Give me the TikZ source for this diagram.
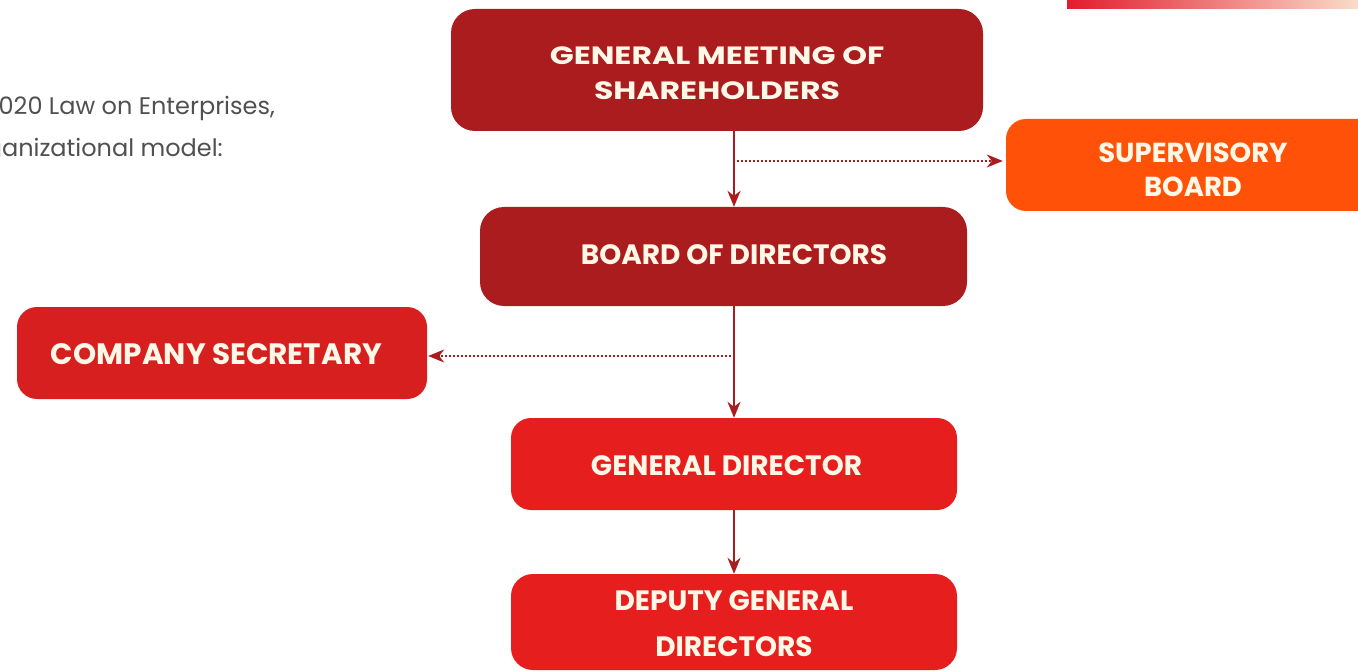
\documentclass[tikz,border=0pt]{standalone}
\usepackage{fontspec}
\setmainfont{Poppins}
\usetikzlibrary{arrows.meta}
\definecolor{darkred}{HTML}{AA1C1E}
\definecolor{suporange}{HTML}{FF5208}
\definecolor{secred}{HTML}{D71F1F}
\definecolor{gdred}{HTML}{E71E1E}
\definecolor{cream}{HTML}{FFF8E7}
\definecolor{greytext}{HTML}{505050}
\definecolor{barstart}{HTML}{E21B2E}
\definecolor{barend}{HTML}{FADCC8}
\tikzset{
  box/.style={rectangle, rounded corners=24pt, inner sep=0pt, text=cream,
    font=\fontsize{28}{36}\selectfont\bfseries, align=center},
  flow/.style={draw=darkred, line width=1.8pt, -{Stealth[length=16pt,width=13pt,inset=5pt]}},
  dotflow/.style={draw=darkred, line width=1.6pt, dash pattern=on 1.6pt off 2.4pt, -{Stealth[length=16pt,width=13pt,inset=5pt]}},
  lefttext/.style={text=greytext, inner sep=0pt, font=\fontsize{24}{30}\selectfont},
}
\begin{document}
\begin{tikzpicture}[x=1pt,y=-1pt]
\useasboundingbox (0,0) rectangle (1358,671);
\clip (0,0) rectangle (1358,671);
\shade[left color=barstart, right color=barend] (1067,0) rectangle (1358,9);
\node[lefttext, anchor=base east] (t1) at (275,115) {2020 Law on Enterprises,};
\node[lefttext, anchor=base east] (t2) at (223,157) {organizational model:};
\node[box, fill=darkred, minimum width=532pt, minimum height=122pt, font=\fontsize{25}{35}\selectfont\bfseries] (gms) at (717,70) {\raisebox{-11.5pt}[0pt][0pt]{\begin{tabular}{@{}c@{}}\scalebox{1.26}[1]{GENERAL MEETING OF}\\\scalebox{1.26}[1]{SHAREHOLDERS}\end{tabular}}};
\node[box, fill=suporange, rounded corners=20pt, minimum width=374pt, minimum height=92pt, font=\fontsize{27.5}{34}\selectfont\bfseries] (sup) at (1193,165) {\raisebox{-13.7pt}[0pt][0pt]{\begin{tabular}{@{}c@{}}SUPERVISORY\\BOARD\end{tabular}}};
\node[box, fill=darkred, minimum width=487pt, minimum height=99pt] (bod) at (723.5,256.5) {\hspace*{21pt}\raisebox{-8.3pt}[0pt][0pt]{BOARD OF DIRECTORS}};
\node[box, fill=secred, rounded corners=20pt, minimum width=410pt, minimum height=92pt, font=\fontsize{29.5}{36}\selectfont\bfseries] (cs) at (222,353) {\raisebox{-11.3pt}[0pt][0pt]{COMPANY SECRETARY}\hspace*{11pt}};
\node[box, fill=gdred, rounded corners=20pt, minimum width=446pt, minimum height=92pt] (gd) at (734,464) {\raisebox{-11.5pt}[0pt][0pt]{GENERAL DIRECTOR}\hspace*{15pt}};
\node[box, fill=gdred, rounded corners=22pt, minimum width=446pt, minimum height=96pt, font=\fontsize{28}{46}\selectfont\bfseries] (dgd) at (734,622) {\raisebox{-8.6pt}[0pt][0pt]{\begin{tabular}{@{}c@{}}DEPUTY GENERAL\\DIRECTORS\end{tabular}}};
\draw[flow] (gms.south -| gd.center) -- (bod.north -| gd.center);
\draw[flow] (bod.south -| gd.center) -- (gd.north);
\draw[flow] (gd.south) -- (dgd.north);
\coordinate (j1) at (737,161);
\coordinate (j2) at (735,356);
\draw[dotflow] (j1) -- ([xshift=-3pt]j1 -| sup.west);
\draw[dotflow] (j2) -- ([xshift=1pt]j2 -| cs.east);
\end{tikzpicture}
\end{document}
